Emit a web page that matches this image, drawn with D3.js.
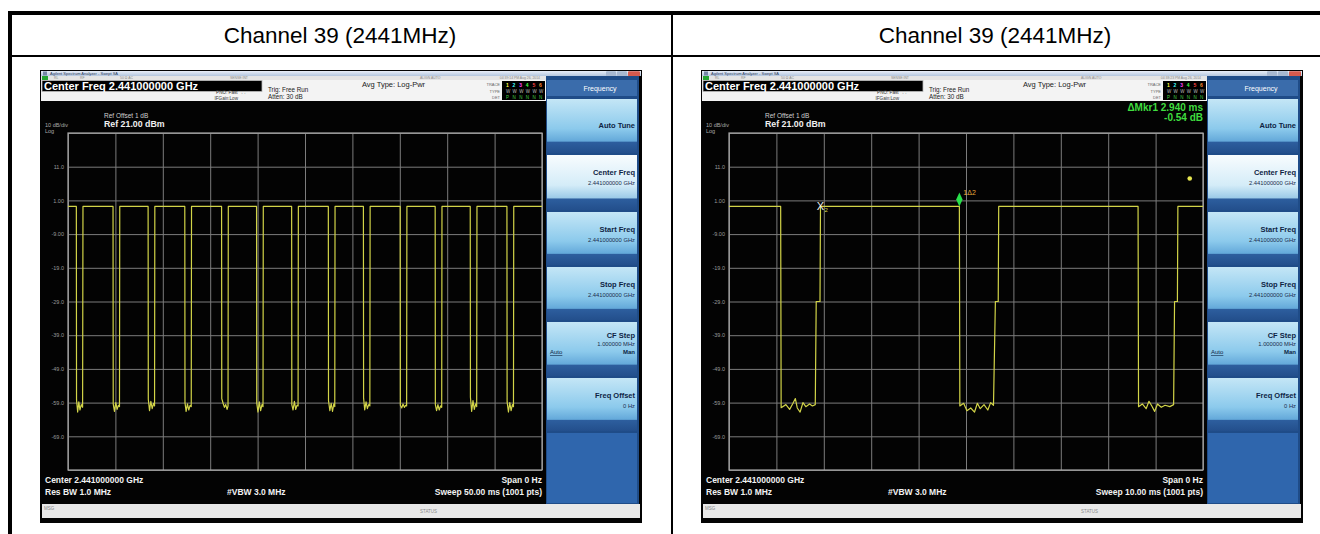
<!DOCTYPE html>
<html><head><meta charset="utf-8">
<script src="https://cdn.jsdelivr.net/npm/d3@7/dist/d3.min.js"></script>
<style>
html,body{margin:0;padding:0;background:#fff;}
svg{display:block;}
text{font-family:"Liberation Sans",Arial,sans-serif;}
</style></head><body>
<svg id="c" width="1320" height="534"></svg>
<script>
// ---------------- data ----------------
const panelTitles = ["Channel 39 (2441MHz)", "Channel 39 (2441MHz)"];
const refLevelDbm = 21;
const dbPerDiv = 10;
const yTickValues = [11, 1, -9, -19, -29, -39, -49, -59, -69];
const yTickLabels = ["11.0", "1.00", "-9.00", "-19.0", "-29.0", "-39.0", "-49.0", "-59.0", "-69.0"];
const sweepTimesMs = [50, 10];
const sweepLabels = ["Sweep  50.00 ms (1001 pts)", "Sweep  10.00 ms (1001 pts)"];
const clockLabels = ["04:39:14 PM Aug 26, 2014", "04:38:23 PM Aug 26, 2014"];
const softkeyLabels = ["Auto Tune", "Center Freq", "Start Freq", "Stop Freq", "CF Step", "Freq Offset"];
const softkeyValues = ["", "2.441000000 GHz", "2.441000000 GHz", "2.441000000 GHz", "1.000000 MHz", "0 Hz"];
const statusItems = ["RL", "RF", "50 \u03A9  AC", "SENSE:INT", "ALIGN AUTO"];

// left trace: 50 ms sweep, [time ms, level dBm]
const leftTrace = [
  [0,-0.8],[0.88,-0.8],[0.90,-58.2],[1.02,-61.8],[1.14,-58.8],[1.26,-61.2],[1.40,-59.6],[1.54,-60.4],[1.58,-0.8],
  [4.75,-0.8],[4.77,-59.4],[4.90,-61.6],[5.04,-59.0],[5.18,-61.0],[5.32,-59.8],[5.43,-60.2],[5.46,-0.8],
  [8.45,-0.8],[8.47,-58.0],[8.60,-61.4],[8.74,-58.6],[8.88,-60.8],[9.02,-59.2],[9.13,-60.0],[9.16,-0.8],
  [12.32,-0.8],[12.34,-59.0],[12.46,-61.6],[12.60,-59.4],[12.74,-61.2],[12.88,-59.8],[13.00,-60.2],[13.03,-0.8],
  [16.20,-0.8],[16.22,-57.8],[16.36,-59.2],[16.50,-60.4],[16.64,-59.6],[16.78,-61.0],[16.88,-60.0],[16.91,-0.8],
  [19.89,-0.8],[19.91,-59.2],[20.04,-61.8],[20.18,-58.8],[20.32,-61.4],[20.46,-59.6],[20.57,-60.2],[20.60,-0.8],
  [23.59,-0.8],[23.61,-59.6],[23.74,-61.2],[23.88,-58.6],[24.02,-61.0],[24.16,-59.8],[24.27,-60.0],[24.30,-0.8],
  [27.46,-0.8],[27.48,-58.4],[27.62,-61.4],[27.76,-59.2],[27.90,-61.6],[28.04,-59.4],[28.14,-60.2],[28.17,-0.8],
  [31.16,-0.8],[31.18,-57.6],[31.30,-61.2],[31.44,-58.8],[31.58,-60.8],[31.72,-59.6],[31.84,-60.0],[31.87,-0.8],
  [35.04,-0.8],[35.06,-59.8],[35.20,-60.6],[35.34,-59.4],[35.48,-60.4],[35.62,-59.8],[35.72,-60.0],[35.75,-0.8],
  [38.73,-0.8],[38.75,-59.6],[38.88,-61.4],[39.02,-59.6],[39.16,-61.2],[39.30,-60.0],[39.42,-60.4],[39.45,-0.8],
  [42.43,-0.8],[42.45,-57.4],[42.58,-61.6],[42.72,-58.4],[42.86,-61.0],[43.00,-59.4],[43.11,-60.2],[43.14,-0.8],
  [46.30,-0.8],[46.32,-58.8],[46.46,-61.8],[46.60,-59.0],[46.74,-61.4],[46.88,-59.6],[46.99,-60.2],[47.02,-0.8],[50,-0.8]
];
// right trace: 10 ms sweep
const rightTrace = [
  [0,-0.8],[1.09,-0.8],[1.10,-60.5],[1.20,-59.6],[1.28,-61.0],[1.35,-59.2],[1.40,-57.8],[1.44,-60.6],[1.50,-61.8],
  [1.56,-59.0],[1.62,-60.2],[1.70,-59.4],[1.76,-60.0],[1.82,-59.6],[1.84,-29.0],[1.92,-29.0],[1.93,-0.8],
  [4.86,-0.8],[4.87,-60.0],[4.95,-59.2],[5.02,-61.4],[5.10,-60.6],[5.18,-61.8],[5.24,-59.2],[5.30,-60.8],
  [5.38,-59.6],[5.46,-61.2],[5.52,-59.0],[5.58,-59.8],[5.62,-29.0],[5.68,-29.0],[5.69,-0.8],
  [8.63,-0.8],[8.64,-60.2],[8.72,-59.4],[8.80,-60.8],[8.86,-58.6],[8.92,-60.0],[8.98,-61.6],[9.04,-59.4],
  [9.12,-60.4],[9.20,-59.8],[9.30,-60.2],[9.38,-59.6],[9.40,-29.0],[9.46,-29.0],[9.47,-0.8],[10,-0.8]
];
const refMarker = [1.93, -0.8];     // marker 2 (X)
const deltaMarker = [4.86, -0.8];   // marker 1 (delta)
const indicatorDot = [9.72, 7.5];
const deltaReadout = ["\u0394Mkr1 2.940 ms", "-0.54 dB"];

// ---------------- drawing ----------------
const svg = d3.select("#c");
const defs = svg.append("defs");
function grad(id, stops) {
  const lg = defs.append("linearGradient").attr("id", id).attr("x1", 0).attr("y1", 0).attr("x2", 0).attr("y2", 1);
  stops.forEach(s => lg.append("stop").attr("offset", s[0]).attr("stop-color", s[1]));
}
grad("tb", [[0, "#e8eef8"], [1, "#b4c6de"]]);
grad("key", [[0, "#c4e6f6"], [0.55, "#8ccaec"], [0.78, "#64a9da"], [0.80, "#2d5e9e"], [1, "#234f8c"]]);
grad("keyh", [[0, "#f8fcfe"], [0.55, "#d4ecf8"], [0.78, "#9ccbe8"], [0.80, "#2d5e9e"], [1, "#234f8c"]]);

// table frame
svg.append("rect").attr("x", 8).attr("y", 11).attr("width", 1312).attr("height", 4).attr("fill", "#000");
svg.append("rect").attr("x", 8).attr("y", 11).attr("width", 4).attr("height", 523).attr("fill", "#000");
svg.append("rect").attr("x", 8).attr("y", 55).attr("width", 1312).attr("height", 2).attr("fill", "#000");
svg.append("rect").attr("x", 671).attr("y", 11).attr("width", 2).attr("height", 523).attr("fill", "#000");
svg.selectAll("text.ptitle").data(panelTitles).join("text").attr("class", "ptitle")
  .attr("x", (d, i) => i === 0 ? 340 : 995).attr("y", 43)
  .attr("text-anchor", "middle").attr("font-size", 22.5).attr("fill", "#000").text(d => d);

function drawScreen(ox, oy, idx, trace) {
  const W = 602, H = 453;
  const g = svg.append("g").attr("transform", `translate(${ox},${oy})`);
  g.append("rect").attr("width", W).attr("height", H).attr("fill", "#030303");
  const small = (x, y, t, anchor, size, fill, weight) => g.append("text").attr("x", x).attr("y", y)
    .attr("font-size", size || 5.8).attr("fill", fill || "#333").attr("text-anchor", anchor || "start")
    .attr("font-weight", weight || "normal").text(t);

  // title bar
  g.append("rect").attr("x", 1).attr("y", 1).attr("width", W - 2).attr("height", 5).attr("fill", "url(#tb)");
  g.append("rect").attr("x", 3).attr("y", 1.5).attr("width", 4).attr("height", 4).attr("fill", "#7486a6");
  small(10, 5, "Agilent Spectrum Analyzer - Swept SA", "start", 4, "#2c3c5c");
  [[566, "#a8b8d0"], [577, "#a8b8d0"], [588, "#d65a4e"]].forEach(b =>
    g.append("rect").attr("x", b[0]).attr("y", 1.2).attr("width", b[0] === 588 ? 12 : 10).attr("height", 5)
      .attr("rx", 1).attr("fill", b[1]));

  // status row
  g.append("rect").attr("x", 1).attr("y", 6).attr("width", 505).attr("height", 4).attr("fill", "#e4e4e4");
  g.append("rect").attr("x", 2).attr("y", 6).attr("width", 6).attr("height", 4).attr("fill", "#25a532");
  const sx = [14, 40, 80, 190, 380];
  statusItems.forEach((s, i) => small(sx[i], 9.3, s, "start", 3.4, "#888"));
  small(500, 9.3, clockLabels[idx], "end", 3.4, "#888");

  // settings panel
  g.append("rect").attr("x", 1).attr("y", 10).attr("width", 505).attr("height", 21).attr("fill", "#f3f3f3");
  g.append("rect").attr("x", 2).attr("y", 10.5).attr("width", 220).attr("height", 11).attr("fill", "#000")
    .attr("stroke", "#bbb").attr("stroke-width", 0.8);
  small(4, 19.5, "Center Freq 2.441000000 GHz", "start", 11, "#fff", "bold");
  small(208, 24, "PNO: Fast  \u2192\u2190", "end", 4.6, "#333");
  small(198, 29.5, "IFGain:Low", "end", 4.6, "#333");
  small(228, 22, "Trig: Free Run", "start", 6.3, "#222");
  small(228, 29, "Atten: 30 dB", "start", 6.3, "#222");
  small(322, 16.5, "Avg Type: Log-Pwr", "start", 7.5, "#222");
  small(460, 16, "TRACE", "end", 4, "#666");
  small(460, 22.5, "TYPE", "end", 4, "#666");
  small(460, 29, "DET", "end", 4, "#666");
  g.append("rect").attr("x", 462).attr("y", 11).attr("width", 43).attr("height", 19).attr("fill", "#000");
  const tc = ["#ffff40", "#40ffff", "#ff40ff", "#40ff40", "#ff4040", "#ff9030"];
  tc.forEach((c, i) => {
    small(466 + i * 6.6, 16.5, String(i + 1), "start", 5, c, "bold");
    small(466 + i * 6.6, 23, "W", "start", 4.5, "#bbb");
    small(466 + i * 6.6, 29, i === 0 ? "P" : "N", "start", 4.5, "#4c4");
  });

  // reference info
  small(64, 48, "Ref Offset 1 dB", "start", 6.5, "#cfcfcf");
  small(64, 57, "Ref 21.00 dBm", "start", 8.8, "#f0f0f0", "bold");
  small(5, 57, "10 dB/div", "start", 5.5, "#aaa");
  small(5, 63, "Log", "start", 5.5, "#aaa");

  // graticule
  const gx0 = 28, gx1 = 502, gy0 = 63, gy1 = 400;
  const x = d3.scaleLinear().domain([0, sweepTimesMs[idx]]).range([gx0, gx1]);
  const y = d3.scaleLinear().domain([refLevelDbm - 10 * dbPerDiv, refLevelDbm]).range([gy1, gy0]);
  const xg = g.append("g").attr("transform", `translate(0,${gy1})`)
    .call(d3.axisBottom(x).ticks(10).tickSize(-(gy1 - gy0)).tickFormat(""));
  const yg = g.append("g").attr("transform", `translate(${gx0},0)`)
    .call(d3.axisLeft(y).tickValues(d3.range(refLevelDbm - 10 * dbPerDiv, refLevelDbm + 1, dbPerDiv))
      .tickSize(-(gx1 - gx0)).tickFormat(""));
  [xg, yg].forEach(a => {
    a.selectAll(".tick line").attr("stroke", "#7c7c7c").attr("stroke-width", 1);
    a.select(".domain").remove();
  });
  g.append("rect").attr("x", gx0).attr("y", gy0).attr("width", gx1 - gx0).attr("height", gy1 - gy0)
    .attr("fill", "none").attr("stroke", "#a8a8a8").attr("stroke-width", 1.2);
  const yl = g.append("g").attr("transform", `translate(${gx0 - 1},0)`)
    .call(d3.axisLeft(y).tickValues(yTickValues).tickSize(0).tickPadding(3)
      .tickFormat((d, i) => yTickLabels[i]));
  yl.select(".domain").remove();
  yl.selectAll("text").attr("font-size", 5.5).attr("fill", "#9a9a9a")
    .attr("font-family", "Liberation Sans, Arial, sans-serif");

  // trace
  const line = d3.line().x(d => x(d[0])).y(d => y(d[1]));
  g.append("path").datum(trace).attr("d", line).attr("fill", "none")
    .attr("stroke", "#d2d448").attr("stroke-width", 1.2).attr("stroke-linejoin", "round");

  // bottom annotations
  small(5, 413, "Center 2.441000000 GHz", "start", 8.5, "#f2f2f2", "bold");
  small(5, 425, "Res BW 1.0 MHz", "start", 8.5, "#f2f2f2", "bold");
  small(187, 425, "#VBW 3.0 MHz", "start", 8.5, "#f2f2f2", "bold");
  small(502, 413, "Span 0 Hz", "end", 8.5, "#f2f2f2", "bold");
  small(502, 425, sweepLabels[idx], "end", 8.5, "#f2f2f2", "bold");

  // message / status bar
  g.append("rect").attr("x", 2).attr("y", 434).attr("width", W - 4).attr("height", 14).attr("fill", "#e8e8e8");
  small(4, 440, "MSG", "start", 4.5, "#888");
  small(380, 442.5, "STATUS", "start", 4.5, "#888");

  // softkey panel
  g.append("rect").attr("x", 506).attr("y", 6).attr("width", 93).attr("height", 428).attr("fill", "#1f4c88");
  g.append("rect").attr("x", 507).attr("y", 10).attr("width", 90).attr("height", 16).attr("fill", "#3a6cab");
  small(560, 20.5, "Frequency", "middle", 7, "#fff");
  const keyTop = [29, 85, 142, 197, 252, 308];
  const keyBot = [83, 140, 195, 250, 306, 361];
  softkeyLabels.forEach((lab, i) => {
    g.append("rect").attr("x", 507).attr("y", keyTop[i]).attr("width", 90)
      .attr("height", keyBot[i] - keyTop[i]).attr("fill", i === 1 ? "url(#keyh)" : "url(#key)");
    if (i === 0) {
      small(595, keyTop[i] + 29, lab, "end", 7.5, "#0e2444", "bold");
    } else if (i === 4) {
      small(595, keyTop[i] + 16, lab, "end", 7.5, "#0e2444", "bold");
      small(595, keyTop[i] + 24, softkeyValues[i], "end", 5.8, "#1a2c4c");
      small(510, keyTop[i] + 32, "Auto", "start", 6, "#0e2444").attr("text-decoration", "underline");
      small(595, keyTop[i] + 32, "Man", "end", 6, "#0e2444", "bold");
    } else {
      small(595, keyTop[i] + 20, lab, "end", 7.5, "#0e2444", "bold");
      small(595, keyTop[i] + 30, softkeyValues[i], "end", 5.8, "#1a2c4c");
    }
  });
  g.append("rect").attr("x", 507).attr("y", 363).attr("width", 90).attr("height", 70).attr("fill", "#2f66ad");

  return { g, x, y, gx1, gy0 };
}

drawScreen(40, 70, 0, leftTrace);
const R = drawScreen(701, 70, 1, rightTrace);

// markers & readout on the right screen
R.g.append("text").attr("x", R.gx1).attr("y", 41).attr("text-anchor", "end").attr("font-size", 10)
  .attr("font-weight", "bold").attr("fill", "#3fdc3f").text(deltaReadout[0]);
R.g.append("text").attr("x", R.gx1).attr("y", 51).attr("text-anchor", "end").attr("font-size", 10)
  .attr("font-weight", "bold").attr("fill", "#3fdc3f").text(deltaReadout[1]);
const mx2 = R.x(refMarker[0]), my2 = R.y(refMarker[1]);
R.g.append("text").attr("x", mx2).attr("y", my2 + 4).attr("text-anchor", "middle").attr("font-size", 11)
  .attr("fill", "#f4f4f4").text("X");
R.g.append("text").attr("x", mx2 + 4).attr("y", my2 + 6).attr("font-size", 6).attr("fill", "#d6d84c").text("2");
const mx1 = R.x(deltaMarker[0]), my1 = R.y(deltaMarker[1]);
R.g.append("path").attr("d", `M${mx1},${my1 - 14} L${mx1 + 3.2},${my1 - 7} L${mx1},${my1} L${mx1 - 3.2},${my1 - 7} Z`)
  .attr("fill", "#28e04a");
R.g.append("text").attr("x", mx1 + 4).attr("y", my1 - 11).attr("font-size", 7).attr("fill", "#e8a83a").text("1\u03942");
R.g.append("circle").attr("cx", R.x(indicatorDot[0])).attr("cy", R.y(indicatorDot[1])).attr("r", 2.3).attr("fill", "#e6e650");
</script>
</body></html>
